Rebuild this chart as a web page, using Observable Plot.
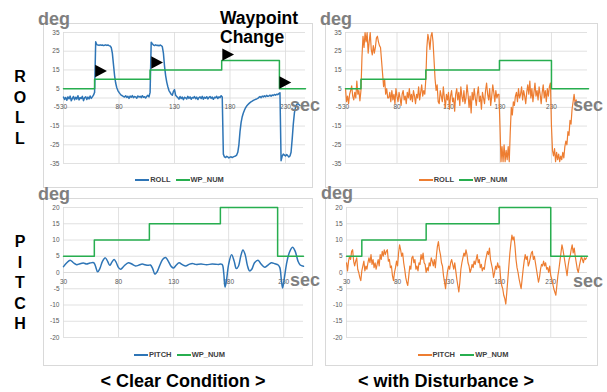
<!DOCTYPE html>
<html><head><meta charset="utf-8">
<script src="https://cdn.jsdelivr.net/npm/d3@7"></script>
<script src="https://cdn.jsdelivr.net/npm/@observablehq/plot@0.6"></script>
<style>
body{margin:0;background:#fff;}
#root{position:relative;width:607px;height:392px;overflow:hidden;background:#fff;font-family:"Liberation Sans",Arial,sans-serif;}
.box{position:absolute;border:1px solid #d9d9d9;box-sizing:border-box;}
.leg{position:absolute;text-align:center;font-size:7.5px;font-weight:bold;color:#404040;line-height:10px;white-space:nowrap;}
.sw{display:inline-block;width:14px;height:2px;vertical-align:middle;margin-right:1px;margin-left:3px;}
</style></head><body><div id="root"></div>
<script>
// ---- data ----
const timeTicks = [30, 80, 130, 180, 230];
const rollTicks = [35, 25, 15, 5, -5, -15, -25, -35];
const pitchTicks = [20, 15, 10, 5, 0, -5, -10, -15, -20];

// waypoint number (deg), step times
const wpClearT = [30, 58, 108, 172.5, 224.5, 248];
const wpClearV = [5, 10, 15, 20, 5, 5];
const wpDistT = [30, 45, 108, 179.5, 230, 266];
const wpDistV = [5, 10, 15, 20, 5, 5];

// roll, clear condition (1 s samples from t=30)
const rollClearStart = 30;
const rollClearV = [0.5,-0.8,0.3,-1.2,0.6,-0.4,1.0,-1.5,-0.2,0.8,-0.9,0.4,-0.6,1.2,-1.0,0.2,-0.3,0.9,-1.4,0.1,0.7,-0.8,0.5,-0.5,1.1,-0.2,0.6,1.5,
 3,30,28.5,28.3,28.1,28.4,28.2,28.3,28.0,28.2,28.4,28.1,28.3,28.0,27.8,27.0,24,18,12,8,5.5,4,3,2.2,1.5,1.2,0.8,
 0.5,1.2,0.3,0.9,-0.2,1.0,0.4,1.3,0.2,0.8,0.6,-0.1,1.1,0.5,0.9,0.2,1.2,0.4,0.7,0.0,0.9,1.4,0.6,
 3,29.8,29,28.3,28.0,28.4,28.1,28.2,27.9,28.3,28.0,27.5,24,17,12,8.5,6,4,3,2,1.5,3.5,4.5,1.5,0.8,
 0.2,-0.6,0.8,-0.3,0.5,-0.9,0.4,0.1,-0.5,0.9,-0.2,0.6,-0.7,0.3,0.0,0.8,-0.4,0.5,-0.8,0.2,0.6,-0.3,0.9,-0.6,0.4,-0.1,0.7,-0.5,0.3,0.8,-0.2,0.5,-0.7,0.4,0.1,0.9,-0.3,0.6,0.2,1.2,
 0.5,-30,-31.5,-31.8,-31.2,-31.5,-32,-31.6,-31.4,-31.8,-31.5,-31.2,-31.0,-30.5,-29,-25,-18,-13,-10,-8,-6.5,-5.2,-4.3,-3.6,-3.0,-2.5,-2.0,-1.7,-1.3,-1.0,-0.7,-0.5,-0.2,
 0.3,0.8,0.2,1.0,0.6,1.2,0.7,1.4,0.9,1.1,1.5,1.0,1.6,1.3,1.9,1.5,2.0,1.8,2.3,2.8,
 -33.5,-31,-30,-30.5,-31,-30.2,-30.8,-31.5,-31,-29,-22,-14,-8,-5,-3.5,-3,-3.5,-4];

// roll, with disturbance (1 s samples from t=30)
const rollDistStart = 30;
const rollDistV = [5,-2,1,-3,2,4,6.5,1,-1,3,0,9,2,4,-1.5,
 4,22,33,27,35,30,35,24,30,35,26,23,28,24,27,32,33,30,28,27,20,13,6,10,2,5,0,
 0,3,-2,4,-1,2,-3,5,1,-2,3,0,-4,2,4,-1,1,-3,3,0,5,-1,2,-2,4,1,-3,2,0,6,-1,3,7,1,4,2,
 10,27,34,31,26,33,35,30,20,10,4,7,-2,
 -3,4,1,-2,6,0,-5,2,-1,3,-6,1,4,-2,0,-7,2,5,-1,3,-4,6,1,-2,4,-3,0,7,2,-5,1,-8,3,-1,5,0,-4,2,6,-2,1,-6,3,0,-3,4,8,2,-1,5,-4,1,7,3,-2,4,0,2,
 2,-15,-34,-26,-34,-25,-34,-28,-33,-26,-34,-18,-5,-9,-2,
 -4,1,3,-2,5,0,2,6,-1,4,1,-3,3,7,2,9,0,5,-2,3,8,1,4,-1,6,2,-3,3,7,0,4,-2,5,1,6,
 8,-15,-28,-31,-27,-34,-29,-33,-30,-34,-31,-33,-29,-32,-26,-23,-25,-18,-20,-12,-14,-6,-2,2,-3,-1,-4];

// pitch, clear condition (smooth, key samples)
const pitchClearT = [30,33,36,39,42,45,48,51,54,57.5,59,61,63,65.5,68,70,72,74,76,78,80,82,85,89,92,95.5,98,101.5,104,106.7,109,111,113,115,117,120,122.7,125,128,130,132.5,135,138,141,144,147,150,155,160,165,170,174,175.5,176.7,178,180,182.7,185,187,189,191,193,195,197,199,201,203.5,206.7,209.5,212.7,215.5,218.8,222,225,226.5,227.8,229,230.5,232.5,235,238,240.5,243,245,248];
const pitchClearV = [1.8,3.0,3.8,3.0,2.4,2.7,2.9,2.6,2.9,3.0,2.0,0.2,1.2,3.5,4.5,3.5,2.2,3.2,4.0,3.0,1.5,1.0,2.0,3.0,2.6,2.0,2.2,2.6,2.4,2.2,2.3,1.2,-0.5,0.2,1.8,4.0,4.6,3.6,1.8,1.4,2.3,3.0,2.4,2.0,2.5,2.8,2.5,2.6,2.4,2.6,2.5,2.5,0.0,-4.5,-2.5,2.5,5.5,3.5,1.2,2.0,5.0,6.9,5.5,2.2,0.5,1.0,3.0,3.8,2.6,1.6,2.2,3.0,2.7,2.3,1.5,-2.0,-4.8,-2.0,2.5,6.0,7.8,6.5,3.5,2.3,1.9];

// pitch, with disturbance (1 s samples from t=30)
const pitchDistStart = 30;
const pitchDistV = [3,0.5,3.5,5,4,6.5,7,3.5,2,3.5,
 4.5,1,0,-1.5,-2.5,0.5,2,3.5,0.5,2,
 1,3,4.5,3,5.5,2.5,4,1.5,3,1,
 2.5,4,2,5.5,4,6.5,5,7,5.5,6.5,
 7,3.5,4,1.5,2,-1,-2.5,0,1.5,3.5,
 2,6,8.5,7,5,6,3,1,-1.5,-3,
 -4,-1,2,1,4.5,5,3,4,1,2,
 0.5,3,2.5,5.5,4,6,3,2.5,0,1.5,
 0.5,3,2,4.5,3.5,2,4,1.5,5,8,
 9.5,7,5.5,3,2,-1,-3,-5,-2,0.5,
 2,1,3,4,2.5,1,3,0.5,-2,-4,
 -6,-3,1,3,4.5,6,5,7,5.5,3,
 2,0,1,2.5,1.5,3.5,2.5,4,5.5,3,
 4,1.5,2.5,0.5,1.5,1,3.5,5,6.5,5.5,
 7.5,4,2.5,1,-1.5,0,2,1,3,1.5,
 2,-2,-4,-5,-7,-8,-9.7,-6,-2,2,
 6,9,11.5,10,11,8,4,1.5,0,-2,
 -3.5,-5,-2,1,3.5,5.5,4,5,2,3,
 4.5,6,6.5,4,5,3,1,-1,-3,-1.5,
 1,2.5,2,3.5,2,3,1,1.5,0,2,
 -1,-2,-3.5,-5,-6,-7,-4,-1,1,3.5,
 6,8.5,7,5,3,1,-1,2,4,5,
 7,8.5,6,7.5,5,3,1,0,2,3.5,
 5,4,3,4.5,4,4.5];

// waypoint-change markers on the clear roll panel (left edge time, deg)
const markerT = [58.5, 109, 173, 224.5];
const markerV = [14.4, 19, 23.2, 8.3];

// ---- colours ----
const BLUE = "#2e75b6", ORANGE = "#ed7d31", GREEN = "#27ae4f", GRID = "#d9d9d9", TICK = "#595959";

const root = document.getElementById("root");
const series = (start, vals) => vals.map((v, i) => ({t: start + i, v}));
const pairs = (ts, vs) => ts.map((t, i) => ({t, v: vs[i]}));

// right-pointing triangle symbol for Plot.dot
const rightTriangle = {
  draw(context, size) {
    const r = Math.sqrt(size / Math.PI);
    context.moveTo(-0.8 * r, -r);
    context.lineTo(1.1 * r, 0);
    context.lineTo(-0.8 * r, r);
    context.closePath();
  }
};

function box(l, t, w, h) {
  const d = document.createElement("div");
  d.className = "box";
  d.style.left = l + "px"; d.style.top = t + "px"; d.style.width = w + "px"; d.style.height = h + "px";
  root.appendChild(d);
}

function panel(o) {
  const marks = [
    Plot.ruleY(o.yTicks, {y: d => d, stroke: GRID, strokeWidth: 0.8}),
    Plot.ruleY([0], {y: d => d, stroke: GRID, strokeWidth: 0.8}),
    Plot.ruleX(o.xTicks, {x: d => d, stroke: GRID, strokeWidth: 0.8}),
    Plot.text(o.yTicks, {x: () => o.xDomain[0], y: d => d, text: d => String(d), textAnchor: "end", dx: -4, fontSize: 6.5, fill: TICK}),
    Plot.text(o.xTicks, {x: d => d, y: () => 0, text: d => String(d), dy: 9, fontSize: 6.5, fill: TICK}),
    Plot.line(o.data, {x: "t", y: "v", stroke: o.color, strokeWidth: o.sw, curve: o.curve || "linear"}),
    Plot.line(o.wp, {x: "t", y: "v", stroke: GREEN, strokeWidth: 1.5, curve: "step-after"})
  ];
  if (o.markers) marks.push(Plot.dot(o.markers, {x: "t", y: "v", symbol: rightTriangle, r: 6.2, dx: 5, fill: "#000", stroke: "none"}));
  const chart = Plot.plot({
    width: o.width, height: o.height,
    marginLeft: o.mL, marginRight: o.mR, marginTop: o.mT, marginBottom: o.mB,
    x: {domain: o.xDomain, axis: null},
    y: {domain: o.yDomain, axis: null},
    style: {background: "transparent", fontFamily: "'Liberation Sans', Arial, sans-serif", overflow: "visible"},
    marks
  });
  const d = document.createElement("div");
  d.style.cssText = `position:absolute;left:${o.left}px;top:${o.top}px;width:${o.width}px;height:${o.height}px;`;
  d.appendChild(chart);
  root.appendChild(d);
}

function legend(l, t, w, color, name) {
  const d = document.createElement("div");
  d.className = "leg";
  d.style.left = l + "px"; d.style.top = t + "px"; d.style.width = w + "px";
  d.innerHTML = `<span class="sw" style="background:${color}"></span>${name} <span class="sw" style="background:${GREEN}"></span>WP_NUM`;
  root.appendChild(d);
}

box(43, 23, 270, 165);
box(325, 23, 273, 165);
box(43, 198, 270, 168);
box(325, 198, 273, 168);

panel({left: 43, top: 23, width: 270, height: 150, mL: 20, mR: 8, mT: 9, mB: 10,
  xDomain: [30, 248], yDomain: [-35, 35], xTicks: timeTicks, yTicks: rollTicks,
  data: series(rollClearStart, rollClearV), color: BLUE, sw: 1.5,
  wp: pairs(wpClearT, wpClearV), markers: pairs(markerT, markerV)});
panel({left: 325, top: 23, width: 273, height: 150, mL: 20, mR: 11, mT: 9, mB: 10,
  xDomain: [30, 265], yDomain: [-35, 35], xTicks: timeTicks, yTicks: rollTicks,
  data: series(rollDistStart, rollDistV), color: ORANGE, sw: 1.2,
  wp: pairs(wpDistT, wpDistV)});
panel({left: 43, top: 198, width: 270, height: 150, mL: 20, mR: 10, mT: 9, mB: 11,
  xDomain: [30, 248], yDomain: [-20, 20], xTicks: timeTicks, yTicks: pitchTicks,
  data: pairs(pitchClearT, pitchClearV), color: BLUE, sw: 1.5, curve: "catmull-rom",
  wp: pairs(wpClearT, wpClearV)});
panel({left: 325, top: 198, width: 273, height: 150, mL: 21, mR: 11, mT: 9, mB: 11,
  xDomain: [30, 266], yDomain: [-20, 20], xTicks: timeTicks, yTicks: pitchTicks,
  data: series(pitchDistStart, pitchDistV), color: ORANGE, sw: 1.2,
  wp: pairs(wpDistT, wpDistV)});

legend(43, 175, 270, BLUE, "ROLL");
legend(325, 175, 273, ORANGE, "ROLL");
legend(43, 350, 270, BLUE, "PITCH");
legend(325, 350, 273, ORANGE, "PITCH");

// ---- annotation overlay ----
const ns = "http://www.w3.org/2000/svg";
const ov = document.createElementNS(ns, "svg");
ov.setAttribute("width", 607); ov.setAttribute("height", 392);
ov.style.cssText = "position:absolute;left:0;top:0;pointer-events:none;";
root.appendChild(ov);
function txt(s, x, y, size, fill, anchor) {
  const t = document.createElementNS(ns, "text");
  t.setAttribute("x", x); t.setAttribute("y", y);
  t.setAttribute("font-size", size); t.setAttribute("font-weight", "bold");
  t.setAttribute("font-family", "'Liberation Sans', Arial, sans-serif");
  t.setAttribute("fill", fill);
  if (anchor) t.setAttribute("text-anchor", anchor);
  t.textContent = s;
  ov.appendChild(t);
}
const GRAY = "#7f7f7f";
txt("deg", 38, 25, 18, GRAY); txt("deg", 320, 25, 18, GRAY);
txt("deg", 38, 200, 18, GRAY); txt("deg", 321, 199, 18, GRAY);
txt("sec", 290, 111, 18, GRAY); txt("sec", 573, 111, 18, GRAY);
txt("sec", 290, 286, 18, GRAY); txt("sec", 573, 287, 18, GRAY);
txt("Waypoint", 220, 24, 17.5, "#000"); txt("Change", 220, 43, 17.5, "#000");
["R","O","L","L"].forEach((c, i) => txt(c, 20, 82 + i * 20.5, 16, "#000", "middle"));
["P","I","T","C","H"].forEach((c, i) => txt(c, 20, 247 + i * 20.5, 16, "#000", "middle"));
txt("< Clear Condition >", 183, 387, 18, "#000", "middle");
txt("< with Disturbance >", 446, 387, 18, "#000", "middle");
</script></body></html>
